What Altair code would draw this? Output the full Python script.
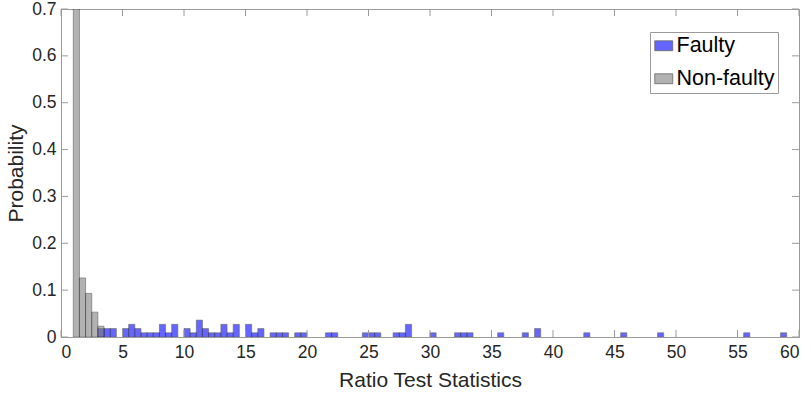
import altair as alt
import pandas as pd

# Histogram bins (bin width 0.5), left edges and probabilities
nonfaulty_start = [1.0, 1.5, 2.0, 2.5, 3.0]
nonfaulty_prob = [0.705, 0.126, 0.093, 0.053, 0.023]

faulty_start = [3.0, 3.5, 4.0, 5.0, 5.5, 6.0, 6.5, 7.0, 7.5, 8.0, 8.5, 9.0,
                10.0, 10.5, 11.0, 11.5, 12.0, 12.5, 13.0, 13.5, 14.0,
                15.0, 15.5, 16.0, 17.0, 17.5, 18.0, 19.0, 19.5,
                21.5, 22.0, 24.5, 25.0, 25.5, 27.0, 27.5, 28.0, 30.0,
                32.0, 32.5, 33.0, 35.5, 37.5, 38.5, 42.5, 45.5, 48.5, 55.5, 58.5]
faulty_prob = [0.018, 0.018, 0.018, 0.018, 0.027, 0.018, 0.009, 0.009, 0.009, 0.027, 0.009, 0.027,
               0.018, 0.009, 0.036, 0.018, 0.009, 0.009, 0.027, 0.009, 0.027,
               0.027, 0.009, 0.018, 0.009, 0.009, 0.009, 0.009, 0.009,
               0.009, 0.009, 0.009, 0.009, 0.009, 0.009, 0.009, 0.027, 0.009,
               0.009, 0.009, 0.009, 0.009, 0.009, 0.018, 0.009, 0.009, 0.009, 0.009, 0.009]

bin_width = 0.5
series_names = ["Faulty", "Non-faulty"]
series_colors = ["#0000ff", "#808080"]

x_ticks = [0, 5, 10, 15, 20, 25, 30, 35, 40, 45, 50, 55, 60]
y_ticks = [0, 0.1, 0.2, 0.3, 0.4, 0.5, 0.6, 0.7]

df = pd.concat([
    pd.DataFrame({"start": faulty_start, "prob": faulty_prob, "group": "Faulty"}),
    pd.DataFrame({"start": nonfaulty_start, "prob": nonfaulty_prob, "group": "Non-faulty"}),
], ignore_index=True)
df["order"] = range(len(df))

W, H = 738, 328
FONT = "Liberation Sans"
AXIS_GREY = "#9a9a9a"
TXT = "#262626"

xscale = alt.Scale(domain=[0, 60], nice=False, zero=False)
yscale = alt.Scale(domain=[0, 0.7], nice=False)

bars = alt.Chart(df).transform_calculate(
    end=f"datum.start + {bin_width}"
).mark_rect(opacity=0.6, stroke="#000000", strokeWidth=0.8, strokeOpacity=0.75, clip=True).encode(
    x=alt.X("start:Q", scale=xscale,
            axis=alt.Axis(values=x_ticks, title="Ratio Test Statistics", grid=False, ticks=False,
                          labelFontSize=17.5, titleFontSize=21, labelPadding=6, titlePadding=9,
                          domainColor=AXIS_GREY, labelColor=TXT, titleColor=TXT,
                          labelFont=FONT, titleFont=FONT, titleFontWeight="normal")),
    x2="end:Q",
    y=alt.Y("prob:Q", scale=yscale,
            axis=alt.Axis(values=y_ticks, format=".1~f", title="Probability", grid=False, ticks=False,
                          labelFontSize=17.5, titleFontSize=21, labelPadding=5, titlePadding=5,
                          domainColor=AXIS_GREY, labelColor=TXT, titleColor=TXT,
                          labelFont=FONT, titleFont=FONT, titleFontWeight="normal")),
    y2=alt.datum(0),
    color=alt.Color("group:N", scale=alt.Scale(domain=series_names, range=series_colors),
                    legend=alt.Legend(title=None, orient="none", legendX=589, legendY=23,
                                      strokeColor=AXIS_GREY, fillColor="white", padding=3,
                                      labelFontSize=21.5, labelFont=FONT, labelColor="#000000",
                                      symbolType="M-1,-0.55L1,-0.55L1,0.55L-1,0.55Z",
                                      symbolSize=324, symbolOpacity=0.6,
                                      symbolStrokeColor="#000000", symbolStrokeWidth=0.8,
                                      labelOffset=2, rowPadding=10)),
    order="order:Q",
)

xt = pd.DataFrame({"v": x_ticks})
yt = pd.DataFrame({"v": y_ticks})
tick_style = dict(color=AXIS_GREY, strokeWidth=1)

xb = alt.Chart(xt).mark_rule(**tick_style).encode(
    x=alt.X("v:Q", scale=xscale), y=alt.value(H), y2=alt.value(H - 7))
xtp = alt.Chart(xt).mark_rule(**tick_style).encode(
    x=alt.X("v:Q", scale=xscale), y=alt.value(0), y2=alt.value(7))
yl = alt.Chart(yt).mark_rule(**tick_style).encode(
    y=alt.Y("v:Q", scale=yscale), x=alt.value(0), x2=alt.value(7))
yr = alt.Chart(yt).mark_rule(**tick_style).encode(
    y=alt.Y("v:Q", scale=yscale), x=alt.value(W), x2=alt.value(W - 7))

chart = alt.layer(bars, xb, xtp, yl, yr).properties(
    width=W, height=H,
    autosize=alt.AutoSizeParams(type="none"),
    padding={"left": 61, "top": 9, "right": 12, "bottom": 60},
    background="white",
).configure_view(stroke=AXIS_GREY, strokeWidth=1)

chart.save("out.html", embed_options={"renderer": "svg", "actions": False})
